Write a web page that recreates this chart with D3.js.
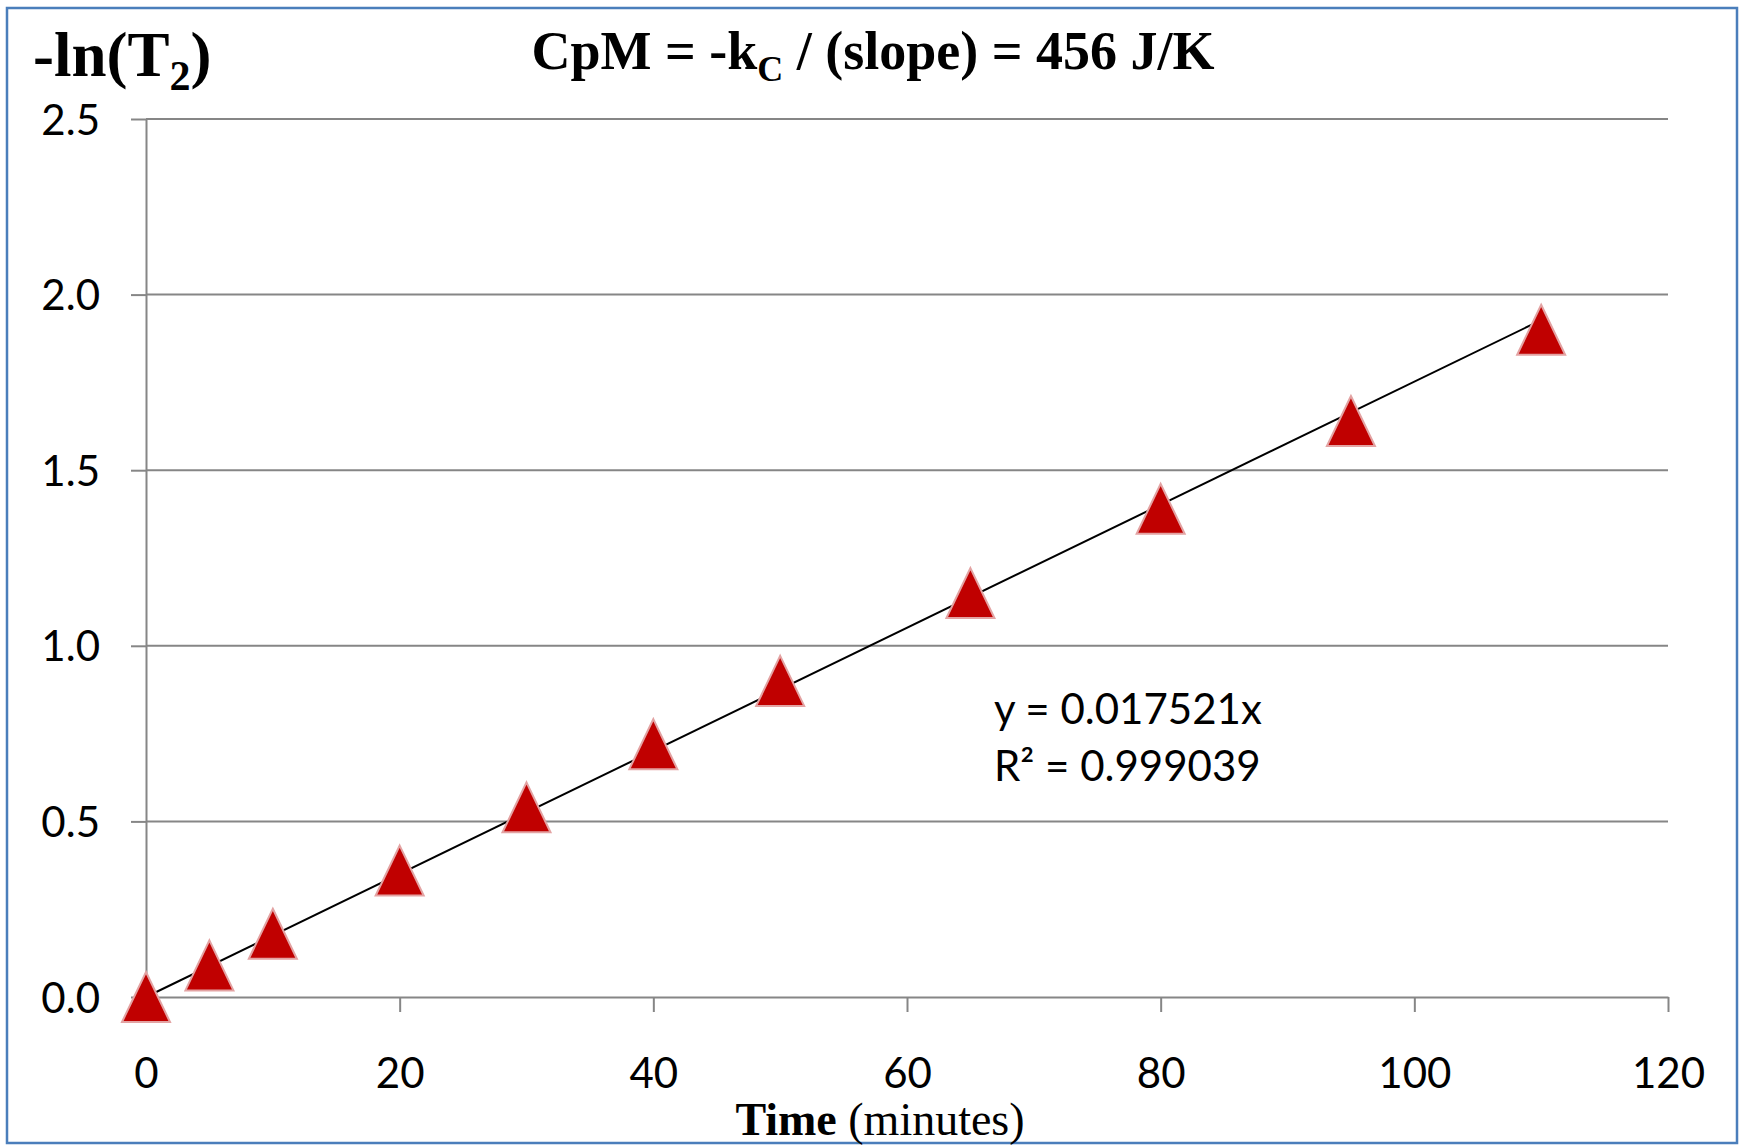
<!DOCTYPE html>
<html>
<head>
<meta charset="utf-8">
<script src="https://cdn.jsdelivr.net/npm/d3@7"></script>
<style>
  html, body { margin: 0; padding: 0; background: #fff; }
  svg { display: block; }
</style>
</head>
<body>
<svg width="1741" height="1148"></svg>
<script>
// data
var times = [0, 5, 10, 20, 30, 40, 50, 65, 80, 95, 110];
var lnT2 = [0, 0.09, 0.18, 0.36, 0.54, 0.72, 0.90, 1.15, 1.39, 1.64, 1.90];
var trendSlope = [0.017521];
var trendRange = [0, 110];
var xTicks = [0, 20, 40, 60, 80, 100, 120];
var yTicks = [0, 0.5, 1.0, 1.5, 2.0, 2.5];
var eqLines = ["y = 0.017521x", "R\u00b2 = 0.999039"];

var canvas = d3.select("svg"),
    width = +canvas.attr("width"),
    height = +canvas.attr("height");

var grey = "#868686",
    sans = "Lato, 'Open Sans', sans-serif",
    serif = "'Liberation Serif', 'Times New Roman', serif";

var x = d3.scaleLinear().domain([0, 120]).range([146, 1668]);
var y = d3.scaleLinear().domain([0, 2.5]).range([997, 119]);

// outer frame
canvas.append("rect")
    .attr("x", 7).attr("y", 8)
    .attr("width", 1730).attr("height", 1135)
    .attr("fill", "#fff")
    .attr("stroke", "#4a7ebb")
    .attr("stroke-width", 2.5);

// horizontal gridlines
canvas.append("g")
  .selectAll("line")
  .data(yTicks.filter(function(d) { return d > 0; }))
  .enter().append("line")
    .attr("x1", x(0)).attr("x2", x(120))
    .attr("y1", function(d) { return y(d); })
    .attr("y2", function(d) { return y(d); })
    .attr("stroke", grey)
    .attr("stroke-width", 2);

// y axis
var yAxis = canvas.append("g")
    .attr("transform", "translate(" + x(0) + ",0)")
    .call(d3.axisLeft(y).tickValues(yTicks).tickFormat(d3.format(".1f")).tickSize(15).tickSizeOuter(0));

// x axis
var xAxis = canvas.append("g")
    .attr("transform", "translate(0," + y(0) + ")")
    .call(d3.axisBottom(x).tickValues(xTicks).tickFormat(d3.format("d")).tickSize(15).tickSizeOuter(0));

[yAxis, xAxis].forEach(function(ax) {
  ax.select(".domain").attr("stroke", grey).attr("stroke-width", 2);
  ax.selectAll(".tick line").attr("stroke", grey).attr("stroke-width", 2);
  ax.selectAll(".tick text")
    .attr("fill", "#000")
    .style("font-family", sans)
    .style("font-size", "42px");
});
yAxis.selectAll(".tick text").attr("x", -46).attr("dy", "0.36em");
xAxis.selectAll(".tick text").attr("y", 61).attr("dy", "0.71em");

// trendline
canvas.append("line")
    .attr("x1", x(trendRange[0])).attr("y1", y(trendRange[0] * trendSlope[0]))
    .attr("x2", x(trendRange[1])).attr("y2", y(trendRange[1] * trendSlope[0]))
    .attr("stroke", "#000")
    .attr("stroke-width", 2);

// triangle markers (box centred, like the spreadsheet ones)
var tw = 48, th = 50;
var tri = "M0," + (-th / 2) + "L" + (tw / 2) + "," + (th / 2) + "L" + (-tw / 2) + "," + (th / 2) + "Z";
canvas.append("g")
  .selectAll("path")
  .data(times)
  .enter().append("path")
    .attr("d", tri)
    .attr("transform", function(d, i) {
      return "translate(" + x(d) + "," + y(lnT2[i]) + ")";
    })
    .attr("fill", "#c00000")
    .attr("stroke", "#e3a3a3")
    .attr("stroke-width", 2);

// regression text
canvas.append("g")
  .selectAll("text")
  .data(eqLines)
  .enter().append("text")
    .attr("x", 994)
    .attr("y", function(d, i) { return 724 + i * 57; })
    .style("font-family", sans)
    .style("font-size", "42px")
    .text(function(d) { return d; });

// title
var title = canvas.append("text")
    .attr("x", 873).attr("y", 69)
    .attr("text-anchor", "middle")
    .style("font-family", serif)
    .style("font-weight", "bold")
    .style("font-size", "54px");
title.append("tspan").text("CpM = -k");
title.append("tspan").attr("dy", 12).style("font-size", "36px").text("C");
title.append("tspan").attr("dy", -12).text(" / (slope) = 456 J/K");

// y axis label
var ylab = canvas.append("text")
    .attr("x", 33).attr("y", 76)
    .style("font-family", serif)
    .style("font-weight", "bold")
    .style("font-size", "63px");
ylab.append("tspan").text("-ln(T");
ylab.append("tspan").attr("dy", 14).style("font-size", "42px").text("2");
ylab.append("tspan").attr("dy", -14).text(")");

// x axis label
var xlab = canvas.append("text")
    .attr("x", 880).attr("y", 1135)
    .attr("text-anchor", "middle")
    .style("font-family", serif)
    .style("font-size", "46px");
xlab.append("tspan").style("font-weight", "bold").text("Time");
xlab.append("tspan").text(" (minutes)");
</script>
</body>
</html>
